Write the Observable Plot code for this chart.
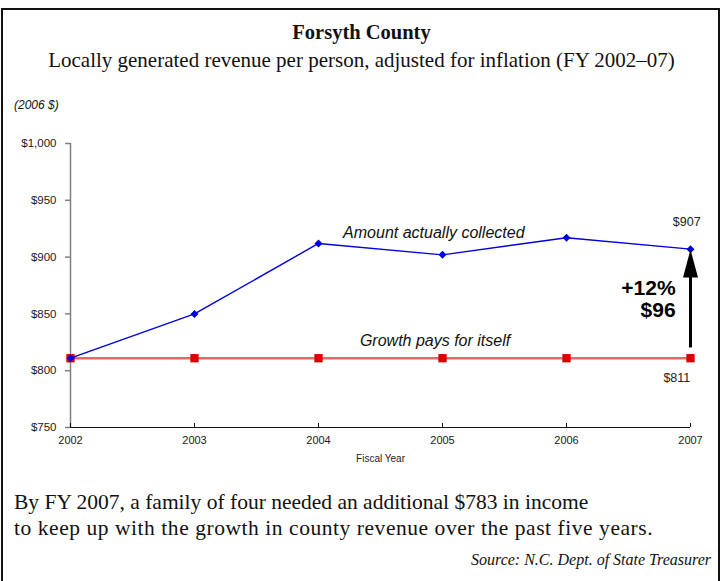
<!DOCTYPE html>
<html>
<head>
<meta charset="utf-8">
<script src="https://cdn.jsdelivr.net/npm/d3@7"></script>
<script src="https://cdn.jsdelivr.net/npm/@observablehq/plot@0.6"></script>
<style>
  html, body { margin: 0; padding: 0; background: #fff; }
  #page { position: relative; width: 723px; height: 581px; overflow: hidden; background: #fff; }
  #frame { position: absolute; left: 1px; top: 8px; width: 719px; height: 600px; border: 2px solid #111; box-sizing: border-box; }
  .t { position: absolute; white-space: nowrap; color: #111; }
  #title { left: 0; width: 723px; text-align: center; top: 20px; font: bold 20.5px/24px "Liberation Serif", serif; }
  #subtitle { left: 0; width: 723px; text-align: center; top: 47px; font: 21px/26px "Liberation Serif", serif; }
  #unit { left: 14px; top: 98px; font: italic 12px "Liberation Sans", sans-serif; }
  #chart { position: absolute; left: 0; top: 90px; }
  #note { left: 14px; top: 489px; font: 21.5px/26px "Liberation Serif", serif; }
  #note span { display: block; }
  #note span + span { letter-spacing: 0.55px; }
  #source { right: 12px; top: 550px; font: italic 16px/20px "Liberation Serif", serif; }
</style>
</head>
<body>
<div id="page">
  <div id="frame"></div>
  <div class="t" id="title"></div>
  <div class="t" id="subtitle"></div>
  <div class="t" id="unit"></div>
  <div id="chart"></div>
  <div class="t" id="note"></div>
  <div class="t" id="source"></div>
</div>
<script>
// ---- data ----
const title = "Forsyth County";
const subtitle = "Locally generated revenue per person, adjusted for inflation (FY 2002–07)";
const unitLabel = "(2006 $)";
const xLabel = "Fiscal Year";
const noteLines = [
  "By FY 2007, a family of four needed an additional $783 in income",
  "to keep up with the growth in county revenue over the past five years."
];
const sourceText = "Source: N.C. Dept. of State Treasurer";

const years = [2002, 2003, 2004, 2005, 2006, 2007];
const collected = [811, 850, 912, 902, 917, 907];
const growthPays = [811, 811, 811, 811, 811, 811];
const yTicks = [750, 800, 850, 900, 950, 1000];

const seriesLabels = [
  {text: "Amount actually collected", x: 2004.93, y: 921},
  {text: "Growth pays for itself", x: 2004.94, y: 826}
];
const valueLabels = [
  {text: "$907", x: 2006.97, y: 930.5},
  {text: "$811", x: 2006.89, y: 794}
];
const changeLabels = [
  {text: "+12%", x: 2006.88, y: 872.5},
  {text: "$96", x: 2006.88, y: 853}
];
const arrowShaft = [{x: 2007, y1: 820.5, y2: 884}];
const arrowHead = [{x: 2007, y: 882}];

// ---- text ----
document.getElementById("title").textContent = title;
document.getElementById("subtitle").textContent = subtitle;
document.getElementById("unit").textContent = unitLabel;
const noteEl = document.getElementById("note");
noteLines.forEach(s => { const sp = document.createElement("span"); sp.textContent = s; noteEl.appendChild(sp); });
document.getElementById("source").textContent = sourceText;

const collectedData = years.map((x, i) => ({x, y: collected[i]}));
const growthData = years.map((x, i) => ({x, y: growthPays[i]}));

// elongated filled triangle pointing up, base at origin
const headSymbol = {
  draw(context) {
    context.moveTo(0, -28);
    context.lineTo(7.5, 0);
    context.lineTo(-7.5, 0);
    context.closePath();
  }
};

const chart = Plot.plot({
  width: 723,
  height: 390,
  marginLeft: 70,
  marginRight: 33,
  marginTop: 53,
  marginBottom: 53,
  style: {fontFamily: "Liberation Sans, Arial, sans-serif", fontSize: "11px", color: "#222", background: "transparent"},
  x: {domain: [2002, 2007], label: null},
  y: {domain: [750, 1000], label: null},
  marks: [
    Plot.ruleX([2002], {stroke: "#808080", strokeWidth: 1.5}),
    Plot.axisY({ticks: yTicks, tickFormat: d => "$" + d3.format(",")(d), tickSize: 5, tickPadding: 9, stroke: "#808080", strokeOpacity: 1, strokeWidth: 1.5, fill: "#1a1a1a", fontSize: 11.5}),
    Plot.ruleY([750], {stroke: "#111", strokeWidth: 1.2}),
    Plot.ruleX(years, {x: d => d, y1: 750, y2: 753.5, stroke: "#111", strokeWidth: 1}),
    Plot.axisX({ticks: years, tickFormat: d => String(d), tickSize: 0, tickPadding: 9, fill: "#1a1a1a", label: null}),
    Plot.text([xLabel], {frameAnchor: "bottom", dy: 34, text: d => d, fontSize: 10, fill: "#222", fontFamily: "Liberation Sans Narrow, Liberation Sans, sans-serif"}),
    Plot.line(growthData, {x: "x", y: "y", stroke: "#E86868", strokeWidth: 2.5}),
    Plot.dot(growthData, {x: "x", y: "y", symbol: "square", r: 4.7, fill: "#DD0000", stroke: "none"}),
    Plot.line(collectedData, {x: "x", y: "y", stroke: "#0000DD", strokeWidth: 1.4}),
    Plot.dot(collectedData, {x: "x", y: "y", symbol: "diamond2", r: 3.6, fill: "#0000DD", stroke: "none"}),
    Plot.link(arrowShaft, {x1: "x", x2: "x", y1: "y1", y2: "y2", stroke: "#000", strokeWidth: 3}),
    Plot.dot(arrowHead, {x: "x", y: "y", symbol: headSymbol, r: 5, fill: "#000", stroke: "none"}),
    Plot.text(seriesLabels, {x: "x", y: "y", text: "text", fontSize: 16, fontStyle: "italic", fill: "#111"}),
    Plot.text(valueLabels, {x: "x", y: "y", text: "text", fontSize: 12.5, fill: "#222"}),
    Plot.text(changeLabels, {x: "x", y: "y", text: "text", fontSize: 21, fontWeight: "bold", textAnchor: "end", fill: "#000"})
  ]
});
document.getElementById("chart").appendChild(chart);
</script>
</body>
</html>
